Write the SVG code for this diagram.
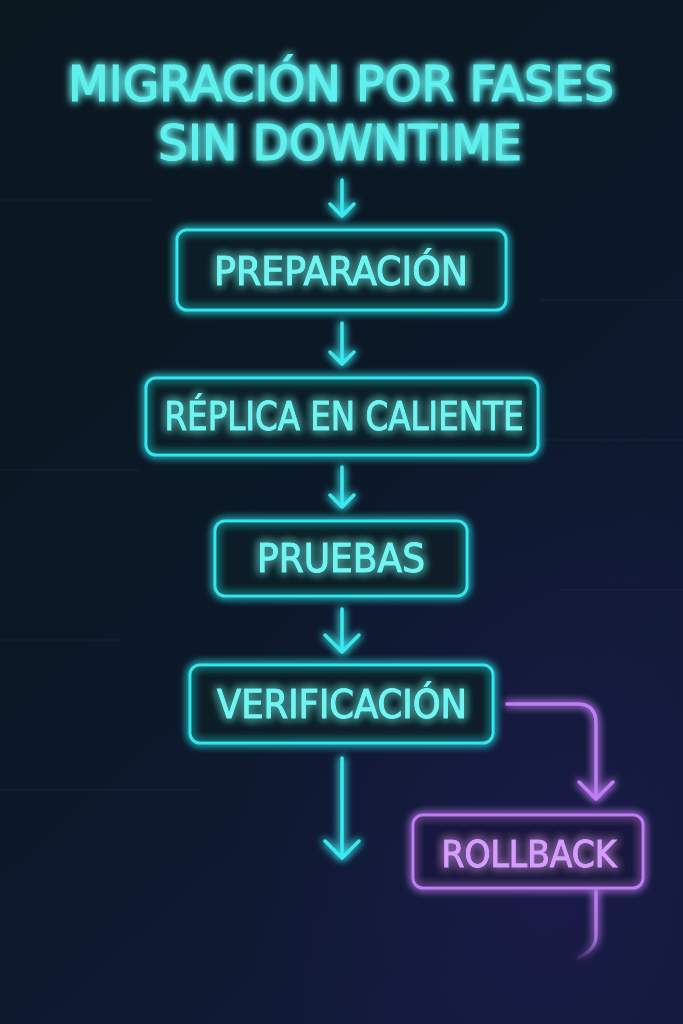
<svg xmlns="http://www.w3.org/2000/svg" width="683" height="1024" viewBox="0 0 683 1024">
<defs>
<linearGradient id="bg" x1="0" y1="0" x2="0.6" y2="1">
<stop offset="0" stop-color="#0b1820"/>
<stop offset="0.5" stop-color="#0b1826"/>
<stop offset="1" stop-color="#111a38"/>
</linearGradient>
<radialGradient id="pglow" cx="0.8" cy="0.85" r="0.45">
<stop offset="0" stop-color="#2a1f6a" stop-opacity="0.3"/>
<stop offset="1" stop-color="#2a1f6a" stop-opacity="0"/>
</radialGradient>
<filter id="glow" x="-30%" y="-30%" width="160%" height="160%">
<feGaussianBlur in="SourceGraphic" stdDeviation="4" result="b"/>
<feMerge><feMergeNode in="b"/><feMergeNode in="b"/><feMergeNode in="SourceGraphic"/></feMerge>
</filter>
<linearGradient id="fade" x1="0" y1="0" x2="0" y2="1">
<stop offset="0" stop-color="#c07cf5" stop-opacity="1"/>
<stop offset="0.7" stop-color="#c07cf5" stop-opacity="0.8"/>
<stop offset="1" stop-color="#c07cf5" stop-opacity="0.1"/>
</linearGradient>
</defs>
<style>
.box{fill:#0c1e2a;fill-opacity:0.6;stroke:#33e6ee;stroke-width:3}
.pbox{fill:#1a1a40;fill-opacity:0.6;stroke:#c07cf5;stroke-width:3}
.lbl{font-family:"DejaVu Sans Condensed","DejaVu Sans",sans-serif;font-size:39px;fill:#6ff5f2;stroke:#6ff5f2;stroke-width:1.1;text-anchor:middle}
.plbl{font-family:"DejaVu Sans Condensed","DejaVu Sans",sans-serif;font-size:38px;fill:#d69cff;stroke:#d69cff;stroke-width:1.1;text-anchor:middle}
.title{font-family:"DejaVu Sans Condensed","DejaVu Sans",sans-serif;font-size:49px;fill:#5ff0ee;stroke:#5ff0ee;stroke-width:1.2;text-anchor:middle}
.arr{fill:none;stroke:#3ae8ee;stroke-width:3.5;stroke-linecap:round;stroke-linejoin:round}
.parr{fill:none;stroke:#c07cf5;stroke-width:3.5;stroke-linecap:round;stroke-linejoin:round}
.grid{stroke:#1c3040;stroke-width:1;opacity:0.5}
</style>
<rect width="683" height="1024" fill="url(#bg)"/>
<rect width="683" height="1024" fill="url(#pglow)"/>
<g id="grid">
<line class="grid" x1="0" y1="200" x2="150" y2="200"/>
<line class="grid" x1="540" y1="300" x2="683" y2="300"/>
<line class="grid" x1="0" y1="470" x2="140" y2="470"/>
<line class="grid" x1="560" y1="590" x2="683" y2="590"/>
<line class="grid" x1="0" y1="640" x2="120" y2="640"/>
<line class="grid" x1="0" y1="790" x2="200" y2="790"/>
<line class="grid" x1="500" y1="440" x2="683" y2="440"/>
</g>
<g id="title" filter="url(#glow)">
<text class="title" x="341" y="101" textLength="546" lengthAdjust="spacingAndGlyphs">MIGRACIÓN POR FASES</text>
<text class="title" x="340" y="160" textLength="364" lengthAdjust="spacingAndGlyphs">SIN DOWNTIME</text>
</g>
<g id="connectors" filter="url(#glow)">
<path class="arr" d="M342 180 V216 M330 204 L342 216 L354 204"/>
<path class="arr" d="M342 323 V364 M330 352 L342 364 L354 352"/>
<path class="arr" d="M342 467 V507 M330 495 L342 507 L354 495"/>
<path class="arr" d="M342 609 V652 M325 635 L342 652 L359 635"/>
<path class="arr" d="M342 758 V858 M325 841 L342 858 L359 841"/>
<path class="parr" d="M507 704 H577 Q596 704 596 723 V799 M579 782 L596 799 L613 782"/>
<path d="M596 889 V936 Q596 950 578 958" fill="none" stroke="url(#fade)" stroke-width="3.5" stroke-linecap="round"/>
</g>
<g id="preparacion" filter="url(#glow)">
<rect class="box" x="177" y="230" width="329" height="80" rx="10"/>
<text class="lbl" x="341" y="285" textLength="254" lengthAdjust="spacingAndGlyphs">PREPARACIÓN</text>
</g>
<g id="replica" filter="url(#glow)">
<rect class="box" x="146" y="378" width="392" height="77" rx="10"/>
<text class="lbl" x="344" y="430" textLength="359" lengthAdjust="spacingAndGlyphs">RÉPLICA EN CALIENTE</text>
</g>
<g id="pruebas" filter="url(#glow)">
<rect class="box" x="215" y="521" width="252" height="75" rx="10"/>
<text class="lbl" x="341" y="572" textLength="168" lengthAdjust="spacingAndGlyphs">PRUEBAS</text>
</g>
<g id="verificacion" filter="url(#glow)">
<rect class="box" x="190" y="665" width="303" height="78" rx="10"/>
<text class="lbl" x="342" y="718" textLength="250" lengthAdjust="spacingAndGlyphs">VERIFICACIÓN</text>
</g>
<g id="rollback" filter="url(#glow)">
<rect class="pbox" x="413" y="815" width="230" height="73" rx="10"/>
<text class="plbl" x="529" y="867" textLength="175" lengthAdjust="spacingAndGlyphs">ROLLBACK</text>
</g>
</svg>
